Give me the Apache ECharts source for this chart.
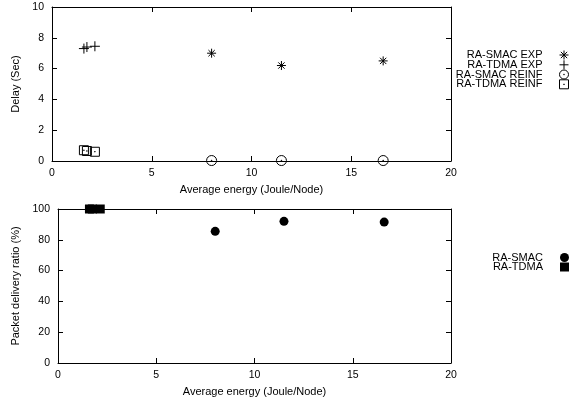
<!DOCTYPE html>
<html>
<head>
<meta charset="utf-8">
<title>Delay and packet delivery ratio vs energy</title>
<script src="https://cdn.jsdelivr.net/npm/echarts@6/dist/echarts.min.js"></script>
<style>
  html, body { margin: 0; background: #fff; }
  #chart { width: 584px; height: 402px; }
</style>
</head>
<body>
<div id="chart"></div>
<script>
// data
var energySmac = [8.0, 11.5, 16.6];
var energyTdma = [1.6, 1.75, 2.15];
var delaySmacExp = [7.0, 6.2, 6.5];
var delayTdmaExp = [7.3, 7.4, 7.45];
var delaySmacReinf = [0.03, 0.03, 0.03];
var delayTdmaReinf = [0.7, 0.65, 0.6];
var pdrSmac = [85.5, 92, 91.5];
var pdrTdma = [100, 100, 100];

var fontFam = "'Liberation Sans', Arial, sans-serif";

// gnuplot-like point shapes
var starPath = 'path://M0,-10L0,10M-10,0L10,0M-7,-7L7,7M-7,7L7,-7';
var plusPath = 'path://M0,-10L0,10M-10,0L10,0';
var circDot = 'path://M10,0A10,10,0,1,1,-10,0A10,10,0,1,1,10,0ZM-0.6,-0.6h1.2v1.2h-1.2Z';
var boxDot = 'path://M-10,-10h20v20h-20ZM-0.6,-0.6h1.2v1.2h-1.2Z';
var boxFill = 'path://M-10,-10h20v20h-20Z';

function pairs(xs, ys) {
  var out = [];
  for (var i = 0; i < xs.length; i++) out.push([xs[i], ys[i]]);
  return out;
}

function mkX(grid, name, gap) {
  return [{
    gridIndex: grid, type: 'value', min: 0, max: 20, interval: 5,
    name: name, nameLocation: 'middle', nameGap: gap,
    nameTextStyle: { color: '#000', fontSize: 11, fontFamily: fontFam },
    axisLine: { onZero: false, lineStyle: { color: '#000', width: 1 } },
    axisTick: { inside: true, length: 5, lineStyle: { color: '#000' } },
    axisLabel: { color: '#000', fontSize: 10.5, fontFamily: fontFam, margin: 7 },
    splitLine: { show: false }
  }, {
    gridIndex: grid, type: 'value', min: 0, max: 20, interval: 5, position: 'top',
    axisLine: { onZero: false, lineStyle: { color: '#000', width: 1 } },
    axisTick: { inside: true, length: 5, lineStyle: { color: '#000' } },
    axisLabel: { show: false }, splitLine: { show: false }
  }];
}

function mkY(grid, max, step, name, gap) {
  return [{
    gridIndex: grid, type: 'value', min: 0, max: max, interval: step,
    name: name, nameLocation: 'middle', nameGap: gap,
    nameTextStyle: { color: '#000', fontSize: 11, fontFamily: fontFam },
    axisLine: { show: true, onZero: false, lineStyle: { color: '#000', width: 1 } },
    axisTick: { show: true, inside: true, length: 5, lineStyle: { color: '#000' } },
    axisLabel: { color: '#000', fontSize: 10.5, fontFamily: fontFam, margin: 8 },
    splitLine: { show: false }
  }, {
    gridIndex: grid, type: 'value', min: 0, max: max, interval: step, position: 'right',
    axisLine: { show: true, onZero: false, lineStyle: { color: '#000', width: 1 } },
    axisTick: { show: true, inside: true, length: 5, lineStyle: { color: '#000' } },
    axisLabel: { show: false }, splitLine: { show: false }
  }];
}

function scat(name, xi, yi, data, sym, size, filled) {
  return {
    name: name, type: 'scatter', xAxisIndex: xi, yAxisIndex: yi,
    data: data, symbol: sym, symbolSize: size, clip: false,
    itemStyle: filled
      ? { color: '#000', opacity: 1 }
      : { color: 'transparent', borderColor: '#000', borderWidth: 1, opacity: 1 },
    emphasis: { disabled: true }
  };
}

function legendAt(name, top, filled) {
  return {
    data: [name], orient: 'vertical', align: 'right',
    top: top, right: 15, padding: 0,
    itemWidth: 9, itemHeight: 9, selectedMode: false,
    itemStyle: filled ? { opacity: 1 } : { borderWidth: 1, borderColor: '#000', opacity: 1 },
    textStyle: { color: '#000', fontSize: 11, fontFamily: fontFam, padding: [0, 12, 0, 0] }
  };
}

var chart = echarts.init(document.getElementById('chart'));
chart.setOption({
  animation: false,
  backgroundColor: '#fff',
  grid: [
    { left: 52, top: 7, width: 399, height: 154 },
    { left: 58, top: 209, width: 393, height: 154 }
  ],
  xAxis: mkX(0, 'Average energy (Joule/Node)', 23).concat(mkX(1, 'Average energy (Joule/Node)', 23)),
  yAxis: mkY(0, 10, 2, 'Delay (Sec)', 27).concat(mkY(1, 100, 20, 'Packet delivery ratio (%)', 33)),
  legend: [
    legendAt('RA-SMAC EXP', 49.5),
    legendAt('RA-TDMA EXP', 59.3),
    legendAt('RA-SMAC REINF', 69),
    legendAt('RA-TDMA REINF', 78.8),
    legendAt('RA-SMAC', 252, true),
    legendAt('RA-TDMA', 261.5, true)
  ],
  series: [
    scat('RA-SMAC EXP', 0, 0, pairs(energySmac, delaySmacExp), starPath, 9, false),
    scat('RA-TDMA EXP', 0, 0, pairs(energyTdma, delayTdmaExp), plusPath, 10, false),
    scat('RA-SMAC REINF', 0, 0, pairs(energySmac, delaySmacReinf), circDot, 10, false),
    scat('RA-TDMA REINF', 0, 0, pairs(energyTdma, delayTdmaReinf), boxDot, 9, false),
    scat('RA-SMAC', 2, 2, pairs(energySmac, pdrSmac), 'circle', 9, true),
    scat('RA-TDMA', 2, 2, pairs(energyTdma, pdrTdma), boxFill, 9, true)
  ]
});
</script>
</body>
</html>
